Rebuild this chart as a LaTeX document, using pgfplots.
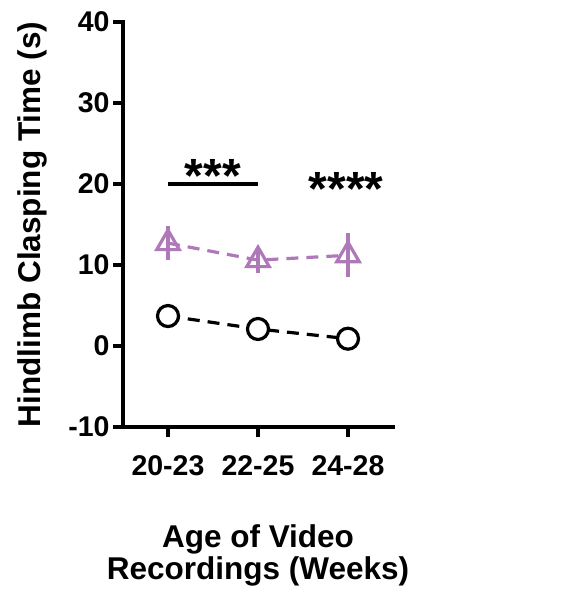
\documentclass[border=0pt]{standalone}
\usepackage{fontspec}
\setmainfont{Liberation Sans}
\usepackage{pgfplots}
\pgfplotsset{compat=1.18}
\definecolor{lav}{RGB}{175,120,185}
\begin{document}
\begin{tikzpicture}[x=1pt,y=1pt]
\path[use as bounding box] (0,0) rectangle (580,593);
\begin{axis}[
  at={(123pt,166pt)}, anchor=south west,
  scale only axis, width=270pt, height=405pt,
  xmin=-0.5, xmax=2.5, ymin=-10, ymax=40,
  axis lines=left, axis line style={-, line width=3.2pt, line cap=rect},
  every tick/.style={black, line width=3.2pt},
  tick align=outside, major tick length=10pt,
  xtick={0,1,2}, xticklabels={20-23,22-25,24-28},
  ytick={-10,0,10,20,30,40}, yticklabels={-10,0,10,20,30,40},
  tick label style={font=\fontsize{28.5}{28.5}\selectfont\bfseries},
  xticklabel style={yshift=-15pt},
  ylabel={Hindlimb Clasping Time (s)},
  xlabel={Age of Video\\Recordings (Weeks)},
  label style={font=\fontsize{31.5}{32}\selectfont\bfseries, align=center},
  xlabel style={yshift=-42pt},
  ylabel style={yshift=14pt},
  clip=false,
]
\addplot[lav, line width=3.2pt, dash pattern=on 12pt off 8pt,
  mark=triangle, mark size=13pt,
  mark options={solid, fill=white, line width=3.2pt},
  error bars/.cd, y dir=both, y explicit, error mark=none,
  error bar style={line width=3.2pt, solid}]
  coordinates {(0,12.7) +- (0,2.1) (1,10.6) +- (0,1.6) (2,11.2) +- (0,2.7)};
\addplot[black, line width=3.2pt, dash pattern=on 12pt off 8pt,
  mark=*, mark size=10.5pt,
  mark options={solid, fill=white, line width=3.2pt}]
  coordinates {(0,3.7) (1,2.1) (2,0.9)};
\draw[line width=3.2pt] (axis cs:0,20) -- (axis cs:1,20);
\node[anchor=base, font=\fontsize{48}{48}\selectfont\bfseries, inner sep=0pt] at (axis cs:0.5,18.9) {***};
\node[anchor=base, font=\fontsize{48}{48}\selectfont\bfseries, inner sep=0pt] at (axis cs:1.98,17.3) {****};
\end{axis}
\end{tikzpicture}
\end{document}
